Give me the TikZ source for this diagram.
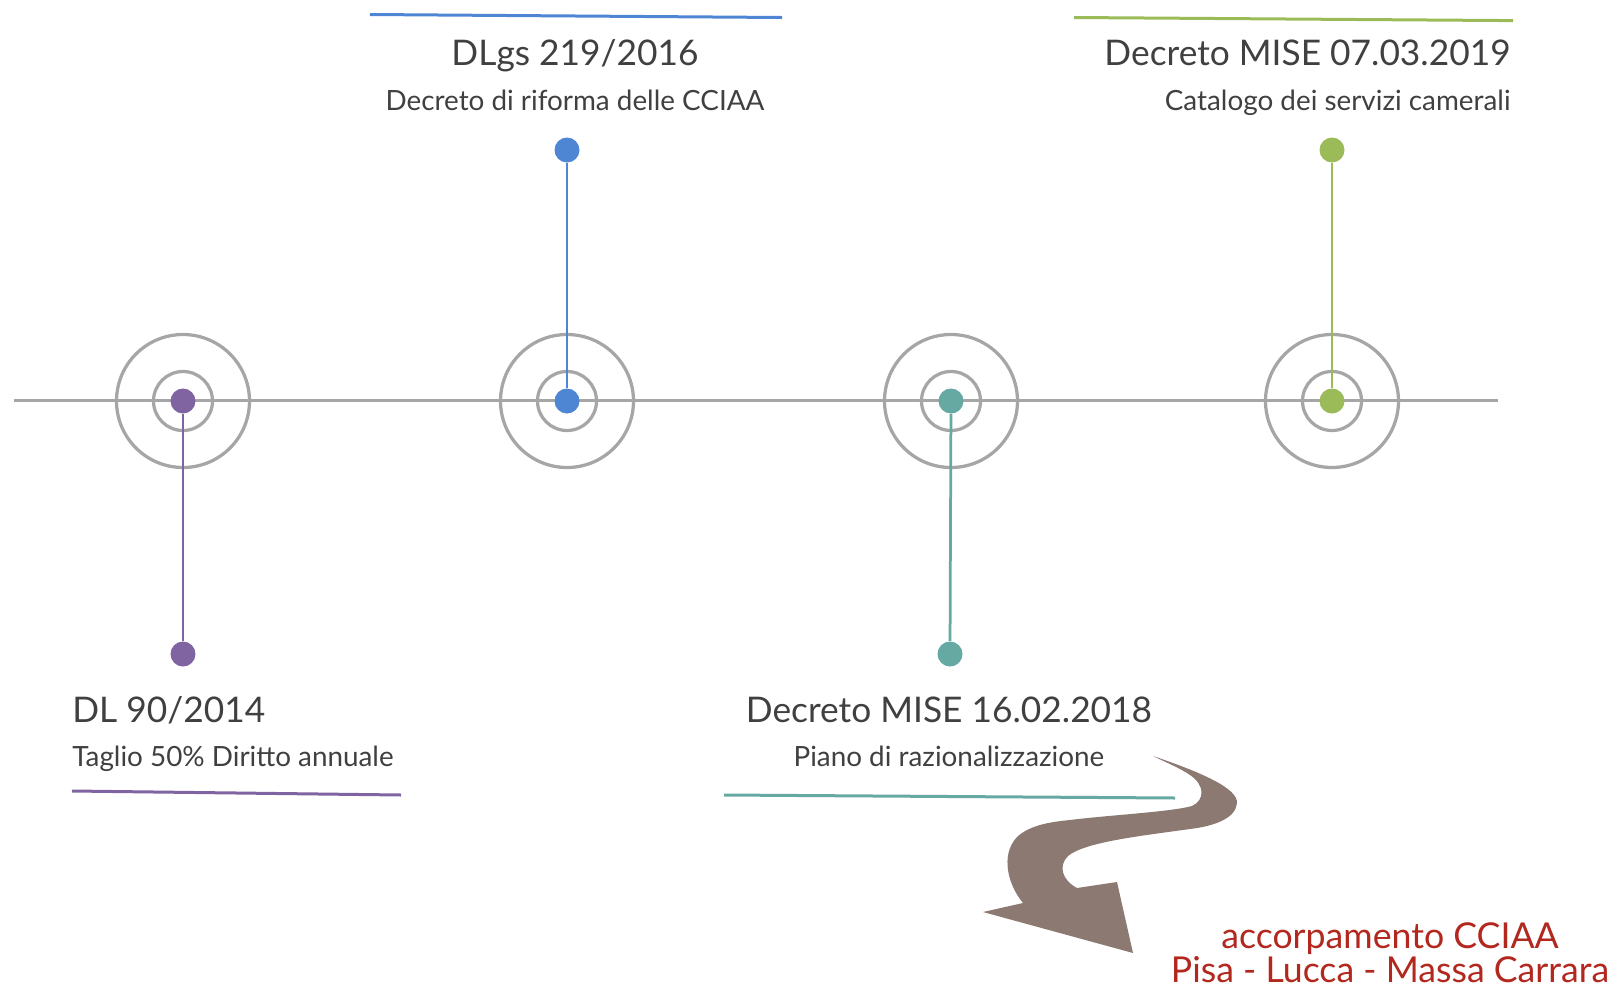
\documentclass[tikz,border=0pt]{standalone}
\usepackage{fontspec}
\setmainfont{Lato}

\definecolor{ringgray}{RGB}{166,166,166}
\definecolor{textgray}{RGB}{64,64,64}
\definecolor{dlpurple}{RGB}{128,100,162}
\definecolor{dlblue}{RGB}{79,134,212}
\definecolor{dlteal}{RGB}{102,168,162}
\definecolor{dlgreen}{RGB}{155,187,89}
\definecolor{arrowbrown}{RGB}{139,121,114}
\definecolor{mergered}{RGB}{178,40,30}

\begin{document}
\begin{tikzpicture}[x=0.02cm, y=-0.02cm]

  \tikzstyle{ring} = [circle, draw=ringgray, line width=0.065cm, inner sep=0pt]
  \tikzstyle{bigring} = [ring, minimum size=2.66cm]
  \tikzstyle{smallring} = [ring, minimum size=1.18cm]
  \tikzstyle{dot} = [circle, inner sep=0pt, minimum size=0.5cm]
  \tikzstyle{stem} = [line width=0.055cm]
  \tikzstyle{rule} = [line width=0.06cm]
  \tikzstyle{title} = [inner sep=0pt, text=textgray, font=\fontsize{20.1}{24}\selectfont]
  \tikzstyle{subtitle} = [inner sep=0pt, text=textgray, font=\fontsize{15.85}{19}\selectfont]

  \useasboundingbox (0,0) rectangle (1614,988);

  % timeline
  \coordinate (tlstart) at (14,400);
  \coordinate (tlend) at (1498,400);
  \draw [ringgray, line width=0.06cm] (tlstart) -- (tlend);

  \node (ringA)   [bigring]   at (183,401) {};
  \node (ringAin) [smallring] at (183,401) {};
  \node (ringB)   [bigring]   at (567,401) {};
  \node (ringBin) [smallring] at (567,401) {};
  \node (ringC)   [bigring]   at (951,401) {};
  \node (ringCin) [smallring] at (951,401) {};
  \node (ringD)   [bigring]   at (1332,401) {};
  \node (ringDin) [smallring] at (1332,401) {};

  % stems and dots
  \node (dotA) [dot, fill=dlpurple] at (183,401) {};
  \node (endA) [dot, fill=dlpurple] at (183,654) {};
  \draw [stem, dlpurple] (dotA) -- (endA);
  \node (dotB) [dot, fill=dlblue] at (567,401) {};
  \node (endB) [dot, fill=dlblue] at (567,150) {};
  \draw [stem, dlblue] (dotB) -- (endB);
  \node (dotC) [dot, fill=dlteal] at (951,401) {};
  \node (endC) [dot, fill=dlteal] at (950,654) {};
  \draw [stem, dlteal] (dotC) -- (endC);
  \node (dotD) [dot, fill=dlgreen] at (1332,401) {};
  \node (endD) [dot, fill=dlgreen] at (1332,150) {};
  \draw [stem, dlgreen] (dotD) -- (endD);

  % DL 90/2014
  \node (titleA) [title, anchor=base west] at (72,722) {DL 90/2014};
  \node (subA) [subtitle, anchor=base west] at (72,766) {Taglio 50\% Diritto annuale};
  \coordinate (ruleAl) at (72,791);
  \coordinate (ruleAr) at (401,795);
  \draw [rule, dlpurple] (ruleAl) -- (ruleAr);

  % DLgs 219/2016
  \node (titleB) [title, anchor=base] at (575,65) {DLgs 219/2016};
  \node (subB) [subtitle, anchor=base] at (575,110) {Decreto di riforma delle CCIAA};
  \coordinate (ruleBl) at (370,14.5);
  \coordinate (ruleBr) at (782,17.5);
  \draw [rule, dlblue] (ruleBl) -- (ruleBr);

  % Decreto MISE 16.02.2018
  \node (titleC) [title, anchor=base] at (949,722) {Decreto MISE 16.02.2018};
  \node (subC) [subtitle, anchor=base] at (949,766) {Piano di razionalizzazione};
  \coordinate (ruleCl) at (724,795);
  \coordinate (ruleCr) at (1175,798);
  \draw [rule, dlteal] (ruleCl) -- (ruleCr);

  % Decreto MISE 07.03.2019
  \node (titleD) [title, anchor=base east] at (1511,65) {Decreto MISE 07.03.2019};
  \node (subD) [subtitle, anchor=base east] at (1511,110) {Catalogo dei servizi camerali};
  \coordinate (ruleDl) at (1074,17.5);
  \coordinate (ruleDr) at (1513,20.6);
  \draw [rule, dlgreen] (ruleDl) -- (ruleDr);

  % winding arrow
  \fill [arrowbrown] (1153,756) .. controls (1200,772) and (1238,788) .. (1237,803)
    .. controls (1236,818) and (1215,826) .. (1190,829)
    .. controls (1140,836) and (1085,842) .. (1068,856)
    .. controls (1058,866) and (1062,880) .. (1077,888)
    -- (1117,882) -- (1133,953) -- (983,912) -- (1023,903)
    .. controls (1008,885) and (1000,855) .. (1017,837)
    .. controls (1030,825) and (1050,822) .. (1070,820)
    .. controls (1110,815) and (1170,812) .. (1192,806)
    .. controls (1205,800) and (1205,785) .. (1190,775)
    .. controls (1180,768) and (1165,762) .. (1153,756) -- cycle;

  \node (merge) [inner sep=0pt, text=mergered, align=center, anchor=base,
    font=\fontsize{20.3}{19.3}\selectfont] at (1390,982)
    {accorpamento CCIAA\\Pisa - Lucca - Massa Carrara};

\end{tikzpicture}
\end{document}
